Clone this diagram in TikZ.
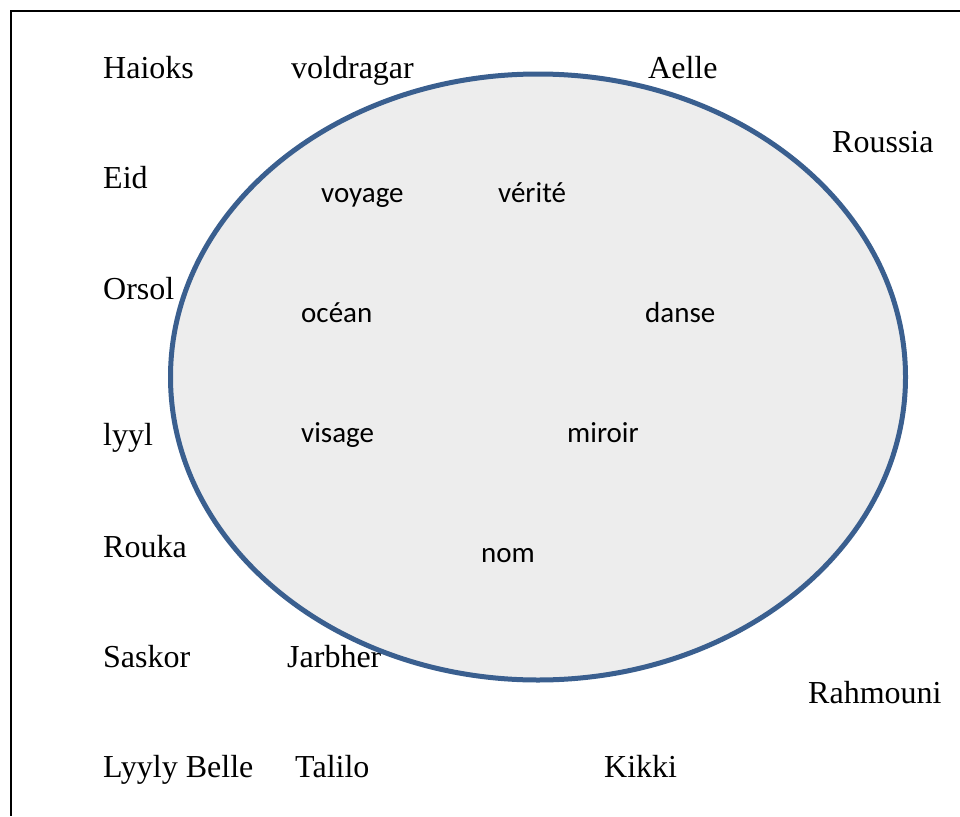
\documentclass[tikz,border=0pt]{standalone}
\usepackage{fontspec}
\usetikzlibrary{shapes.geometric}
\newfontfamily\namefont{Liberation Serif}
\newfontfamily\wordfont{Carlito}
\definecolor{ringblue}{HTML}{3A5F8F}
\definecolor{ringfill}{HTML}{EDEDED}
\tikzset{
  outername/.style={anchor=base west, inner sep=0pt, text=black,
    font=\namefont\fontsize{32}{38}\selectfont},
  innerword/.style={anchor=base west, inner sep=0pt, text=black,
    font=\wordfont\fontsize{29}{35}\selectfont},
  ring/.style={ellipse, draw=ringblue, fill=ringfill, line width=5pt,
    minimum width=735pt, minimum height=606pt, inner sep=0pt},
  frameline/.style={line width=2pt, black}
}
\begin{document}
\begin{tikzpicture}[x=1pt,y=-1pt]
\useasboundingbox (0,0) rectangle (960,816);
% open frame: top and left edges only
\coordinate (ftr) at (960,11);
\coordinate (fcorner) at (11,11);
\coordinate (fbl) at (11,816);
\draw[frameline] (ftr) -- (fcorner) -- (fbl);

% names around the set
\node[outername] (haioks) at (103,78) {Haioks};
\node[outername] (voldragar) at (291,78) {voldragar};
\node[outername] (aelle) at (648,78) {Aelle};
\node[outername] (roussia) at (832,152) {Roussia};
\node[outername] (eid) at (103,188) {Eid};
\node[outername] (orsol) at (103,299) {Orsol};
\node[outername] (lyyl) at (103,445) {lyyl};
\node[outername] (rouka) at (103,557) {Rouka};
\node[outername] (saskor) at (103,667) {Saskor};
\node[outername] (jarbher) at (287,667) {Jarbher};
\node[outername] (rahmouni) at (808,703) {Rahmouni};
\node[outername] (lyylybelle) at (103,777) {Lyyly Belle};
\node[outername] (talilo) at (295,777) {Talilo};
\node[outername] (kikki) at (604,777) {Kikki};

% the set itself, drawn over the names
\node[ring] (set) at (538,377) {};

% words inside the set
\node[innerword] (voyage) at (321,202) {voyage};
\node[innerword] (verite) at (498,202) {vérité};
\node[innerword] (ocean) at (301,322.5) {océan};
\node[innerword] (danse) at (645,322.5) {danse};
\node[innerword] (visage) at (301,442.5) {visage};
\node[innerword] (miroir) at (567,442.5) {miroir};
\node[innerword] (nom) at (481,562.5) {nom};
\end{tikzpicture}
\end{document}
